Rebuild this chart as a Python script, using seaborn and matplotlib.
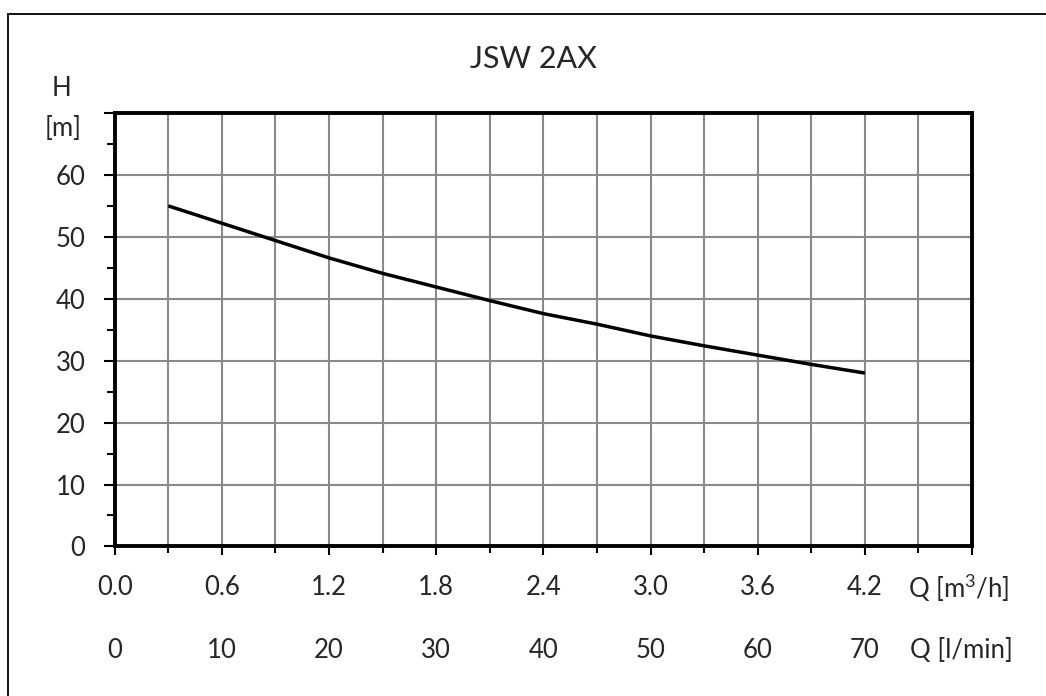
import numpy as np
import pandas as pd
import matplotlib
matplotlib.use("Agg")
import matplotlib.pyplot as plt
from matplotlib.patches import Rectangle
from matplotlib.ticker import MultipleLocator
import seaborn as sns

# pump curve JSW 2AX
q_m3h = [0.3, 0.6, 0.9, 1.2, 1.5, 1.8, 2.1, 2.4, 2.7, 3.0, 3.3, 3.6, 3.9, 4.2]
head_m = [55.0, 52.2, 49.4, 46.6, 44.1, 41.9, 39.7, 37.6, 35.9, 34.0, 32.4, 30.9, 29.4, 28.0]

x_ticks = [0.0, 0.6, 1.2, 1.8, 2.4, 3.0, 3.6, 4.2, 4.8]
x_labels_m3h = ["0.0", "0.6", "1.2", "1.8", "2.4", "3.0", "3.6", "4.2", ""]
x_labels_lmin = ["0", "10", "20", "30", "40", "50", "60", "70"]
y_ticks = [0, 10, 20, 30, 40, 50, 60, 70]
y_labels = ["0", "10", "20", "30", "40", "50", "60", ""]

df = pd.DataFrame({"Q": q_m3h, "H": head_m})

sns.set_style("white")
plt.rcParams["font.family"] = ["Lato", "DejaVu Sans"]
plt.rcParams["mathtext.fontset"] = "custom"
plt.rcParams["mathtext.rm"] = "Lato"
plt.rcParams["mathtext.it"] = "Lato"
FS = 18.5

fig = plt.figure(figsize=(10.46, 6.96), dpi=100)
ax = fig.add_axes([0.1097, 0.2149, 0.8196, 0.6227])

sns.lineplot(data=df, x="Q", y="H", ax=ax, color="black", linewidth=2.5)
for ln in ax.get_lines():
    ln.set_solid_joinstyle("round")
    ln.set_solid_capstyle("butt")

ax.set_xlim(0, 4.8)
ax.set_ylim(0, 70)
ax.set_xticks(x_ticks)
ax.set_xticklabels(x_labels_m3h)
ax.xaxis.set_minor_locator(MultipleLocator(0.3))
ax.set_yticks(y_ticks)
ax.set_yticklabels(y_labels)
ax.yaxis.set_minor_locator(MultipleLocator(5))

ax.grid(True, which="both", axis="x", color="#8a8a8a", linewidth=1.5)
ax.grid(True, which="major", axis="y", color="#8a8a8a", linewidth=1.5)
ax.set_axisbelow(True)

for s in ax.spines.values():
    s.set_color("black")
    s.set_linewidth(2.8)

ax.tick_params(which="both", bottom=True, left=True, top=False, right=False)
ax.tick_params(axis="y", which="major", length=8, width=1.5, pad=13, labelsize=FS, color="black")
ax.tick_params(axis="y", which="minor", length=6, width=1.5, color="black")
ax.tick_params(axis="x", which="major", length=6.5, width=1.5, pad=14, labelsize=FS, color="black")
ax.tick_params(axis="x", which="minor", length=5, width=1.5, color="black")
ax.set_xlabel("")
ax.set_ylabel("")

# second row of x labels (l/min)
trans = ax.get_xaxis_transform()
for xv, lab in zip(x_ticks, x_labels_lmin):
    ax.text(xv, -0.239, lab, transform=trans, ha="center", va="center", fontsize=FS)

ax.text(4.44, -0.097, "Q [m$^{\\mathrm{3}}$/h]", transform=trans, ha="left", va="center", fontsize=FS)
ax.text(4.455, -0.239, "Q [l/min]", transform=trans, ha="left", va="center", fontsize=FS)

fig.text(62 / 1046, 1 - 88 / 696, "H", ha="center", va="center", fontsize=FS)
fig.text(63 / 1046, 1 - 128 / 696, "[m]", ha="center", va="center", fontsize=FS)
fig.text(533 / 1046, 1 - 59 / 696, "JSW 2AX", ha="center", va="center", fontsize=22)

# outer frame
fig.add_artist(Rectangle((8 / 1046, -0.1), 1.2, 0.1 + 1 - 14 / 696,
                         transform=fig.transFigure, fill=False,
                         edgecolor="black", linewidth=1.3))

fig.savefig("out.png", dpi=100)
